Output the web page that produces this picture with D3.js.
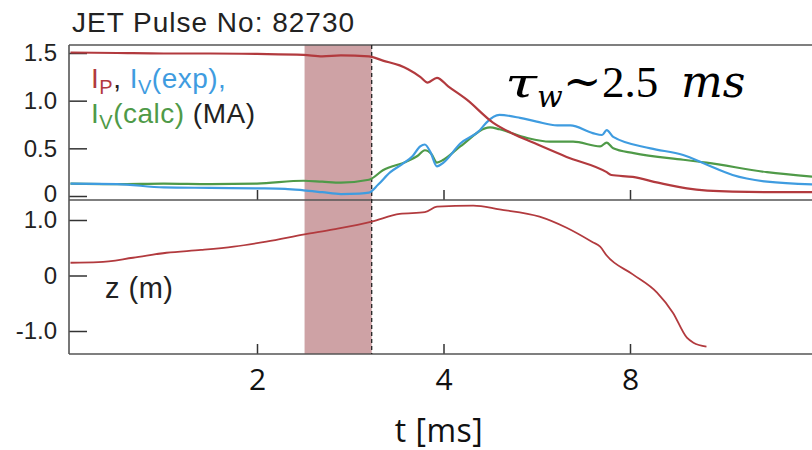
<!DOCTYPE html>
<html>
<head>
<meta charset="utf-8">
<script src="https://cdn.jsdelivr.net/npm/d3@7"></script>
<style>
  body { margin: 0; background: #fff; }
  svg { display: block; }
</style>
</head>
<body>
<svg id="chart" width="812" height="450"></svg>
<script>
const width = 812;
const height = 450;

// valeurs : [t, valeur]
const ipData = [[0,1.505],[0.5,1.50],[1,1.495],[1.5,1.495],[2,1.49],[2.5,1.48],[2.7,1.465],[2.9,1.475],[3.2,1.465],
  [3.35,1.42],[3.53,1.37],[3.62,1.33],[3.75,1.25],[3.83,1.19],[3.93,1.24],[4.05,1.15],[4.25,1.01],[4.53,0.77],
  [4.75,0.65],[4.96,0.56],[5.32,0.41],[5.75,0.25],[5.8,0.22],[6.03,0.20],[6.3,0.14],[6.61,0.08],[7.1,0.045],[7.5,0.04],[8,0.04]];
const ivExpData = [[0,0.13],[0.5,0.125],[1,0.09],[1.5,0.085],[2,0.08],[2.3,0.075],[2.5,0.06],[2.7,0.04],[2.9,0.02],
  [3.1,0.025],[3.2,0.035],[3.3,0.12],[3.43,0.25],[3.55,0.33],[3.67,0.42],[3.75,0.52],[3.8,0.54],[3.86,0.46],[3.93,0.31],
  [4.0,0.35],[4.18,0.55],[4.39,0.69],[4.46,0.77],[4.6,0.85],[4.82,0.82],[5.0,0.78],[5.22,0.74],[5.36,0.74],[5.6,0.66],
  [5.7,0.64],[5.75,0.69],[5.82,0.62],[6.22,0.5],[6.57,0.43],[6.82,0.33],[7.1,0.22],[7.47,0.15],[8,0.12]];
const ivCalcData = [[0,0.13],[0.5,0.125],[1,0.13],[1.5,0.125],[2,0.13],[2.5,0.16],[2.7,0.15],[2.9,0.14],[3.2,0.17],
  [3.35,0.27],[3.6,0.36],[3.72,0.42],[3.8,0.48],[3.87,0.44],[3.93,0.35],[4.0,0.38],[4.18,0.52],[4.5,0.72],[4.6,0.70],
  [4.89,0.61],[5.14,0.57],[5.39,0.57],[5.68,0.52],[5.75,0.56],[5.82,0.5],[6.04,0.45],[6.57,0.38],[6.82,0.35],[7.47,0.25],[8,0.2]];
const zData = [[0,0.23],[0.3,0.24],[0.67,0.32],[1.03,0.41],[1.4,0.46],[1.75,0.52],[2.1,0.61],[2.51,0.74],[2.82,0.83],
  [3.23,0.97],[3.53,1.11],[3.8,1.14],[3.93,1.24],[4.32,1.26],[4.6,1.19],[5.03,1.06],[5.32,0.86],[5.6,0.6],[5.68,0.52],
  [5.75,0.36],[6.03,0.02],[6.29,-0.31],[6.46,-0.67],[6.61,-1.12],[6.68,-1.21],[6.82,-1.28]];

// fenêtre grisée (disruption) et ligne pointillée
const windowT = [2.51, 3.23];
const xTicks = [2, 4, 6];
const xTickLabels = ["2", "4", "8"];
const topTicks = [0, 0.5, 1.0, 1.5];
const zTicks = [-1.0, 0, 1.0];

const colors = { ip: "#b23a3e", exp: "#3f9ce0", calc: "#4f9a48", ink: "#222" };

const svg = d3.select("#chart");

const left = 69, top1 = 45, mid = 200, bottom = 354;

const x = d3.scaleLinear().domain([0, 8]).range([70.5, 816.5]);
const yTop = d3.scaleLinear().domain([0, 1.5]).range([196, 53]);
const yZ = d3.scaleLinear().domain([-1, 1]).range([331, 220]);

// zone grisée
svg.append("rect")
  .attr("x", x(windowT[0])).attr("y", top1)
  .attr("width", x(windowT[1]) - x(windowT[0]))
  .attr("height", bottom - top1)
  .attr("fill", "#cea2a5");

const fmt = d => d === 0 ? "0" : d.toFixed(1);
const sans = "Liberation Sans, Arial, sans-serif";

// axes gauche
const axTop = svg.append("g").attr("transform", `translate(${left},0)`)
  .call(d3.axisLeft(yTop).tickValues(topTicks).tickSize(-18).tickPadding(12).tickFormat(fmt));
const axZ = svg.append("g").attr("transform", `translate(${left},0)`)
  .call(d3.axisLeft(yZ).tickValues(zTicks).tickSize(-18).tickPadding(12).tickFormat(fmt));

// axes du bas (le haut n'a pas d'étiquettes)
const axMid = svg.append("g").attr("transform", `translate(0,${mid})`)
  .call(d3.axisBottom(x).tickValues(xTicks).tickSize(-10).tickFormat(""));
const axBot = svg.append("g").attr("transform", `translate(0,${bottom})`)
  .call(d3.axisBottom(x).tickValues(xTicks).tickSize(-10).tickPadding(15).tickFormat((d, i) => xTickLabels[i]));

[axTop, axZ, axMid, axBot].forEach(g => {
  g.select(".domain").remove();
  g.selectAll(".tick line").attr("stroke", "#333").attr("stroke-width", 1.5);
});
[axTop, axZ].forEach(g => g.selectAll(".tick text")
  .attr("font-family", sans).attr("font-size", 24).attr("fill", colors.ink));
// le 0 du haut remonte un peu pour ne pas toucher le 1.0 du bas
axTop.selectAll(".tick text").filter(d => d === 0).attr("dy", "0.22em");
axBot.selectAll(".tick text")
  .attr("font-family", "Open Sans, sans-serif").attr("font-size", 30).attr("fill", "#111");

// cadre
const frame = svg.append("g").attr("stroke", "#555").attr("stroke-width", 1.6);
frame.append("line").attr("x1", left).attr("x2", width).attr("y1", top1).attr("y2", top1);
frame.append("line").attr("x1", left).attr("x2", width).attr("y1", mid).attr("y2", mid);
frame.append("line").attr("x1", left).attr("x2", width).attr("y1", bottom).attr("y2", bottom);
frame.append("line").attr("x1", left).attr("x2", left).attr("y1", top1).attr("y2", bottom);

svg.append("line")
  .attr("x1", x(windowT[1])).attr("x2", x(windowT[1]))
  .attr("y1", top1).attr("y2", bottom)
  .attr("stroke", "#222").attr("stroke-width", 1.3).attr("stroke-dasharray", "4,3");

// courbes
const lineTop = d3.line().x(d => x(d[0])).y(d => yTop(d[1])).curve(d3.curveMonotoneX);
const lineZ = d3.line().x(d => x(d[0])).y(d => yZ(d[1])).curve(d3.curveMonotoneX);

svg.append("path").datum(ivCalcData).attr("d", lineTop)
  .attr("fill", "none").attr("stroke", colors.calc).attr("stroke-width", 2.2);
svg.append("path").datum(ivExpData).attr("d", lineTop)
  .attr("fill", "none").attr("stroke", colors.exp).attr("stroke-width", 2.2);
svg.append("path").datum(ipData).attr("d", lineTop)
  .attr("fill", "none").attr("stroke", colors.ip).attr("stroke-width", 2.2);
svg.append("path").datum(zData).attr("d", lineZ)
  .attr("fill", "none").attr("stroke", colors.ip).attr("stroke-width", 1.8);

// titre
svg.append("text")
  .attr("x", 72).attr("y", 32)
  .attr("font-family", sans).attr("font-size", 28)
  .attr("letter-spacing", 1).attr("fill", "#222")
  .text("JET Pulse No: 82730");

// légende haute
const leg1 = svg.append("text").attr("x", 91).attr("y", 88).attr("font-family", sans)
  .attr("font-size", 28).attr("letter-spacing", 0.5);
leg1.append("tspan").attr("fill", colors.ip).text("I");
leg1.append("tspan").attr("fill", colors.ip).attr("font-size", 20).attr("dy", 6).text("P");
leg1.append("tspan").attr("fill", colors.ink).attr("dy", -6).text(", ");
leg1.append("tspan").attr("fill", colors.exp).text("I");
leg1.append("tspan").attr("fill", colors.exp).attr("font-size", 20).attr("dy", 6).text("V");
leg1.append("tspan").attr("fill", colors.exp).attr("dy", -6).text("(exp),");

const leg2 = svg.append("text").attr("x", 91).attr("y", 123).attr("font-family", sans)
  .attr("font-size", 28).attr("letter-spacing", 0.5);
leg2.append("tspan").attr("fill", colors.calc).text("I");
leg2.append("tspan").attr("fill", colors.calc).attr("font-size", 20).attr("dy", 6).text("V");
leg2.append("tspan").attr("fill", colors.calc).attr("dy", -6).text("(calc)");
leg2.append("tspan").attr("fill", colors.ink).text(" (MA)");

svg.append("text").attr("x", 105).attr("y", 298)
  .attr("font-family", sans).attr("font-size", 29).attr("letter-spacing", 0.5).attr("fill", colors.ink)
  .text("z (m)");

// tau : morceaux placés un à un pour retrouver la largeur de la police maths
const serifD = "DejaVu Serif, serif";
const serifL = "Liberation Serif, serif";
svg.append("text").attr("x", 505).attr("y", 97)
  .attr("font-family", serifD).attr("font-style", "italic").attr("font-size", 41)
  .attr("textLength", 32).attr("lengthAdjust", "spacingAndGlyphs")
  .text("τ");
const tau = svg.append("text").attr("y", 97).attr("font-size", 46).attr("fill", "#000");
tau.append("tspan").attr("x", 537).attr("font-family", serifD).attr("font-style", "italic")
  .attr("font-size", 30).attr("dy", 10).text("w");
tau.append("tspan").attr("x", 563).attr("font-family", serifD).attr("dy", -10).text("~");
tau.append("tspan").attr("x", 602).attr("font-family", serifL).attr("font-size", 45).text("2.5");
tau.append("tspan").attr("x", 681).attr("font-family", serifD).attr("font-style", "italic").attr("font-size", 44).text("ms");

// titre de l'axe x
svg.append("text")
  .attr("x", 439).attr("y", 442).attr("text-anchor", "middle")
  .attr("font-family", "Open Sans, sans-serif").attr("font-size", 32).attr("letter-spacing", 0.5).attr("fill", "#111")
  .text("t [ms]");
</script>
</body>
</html>
